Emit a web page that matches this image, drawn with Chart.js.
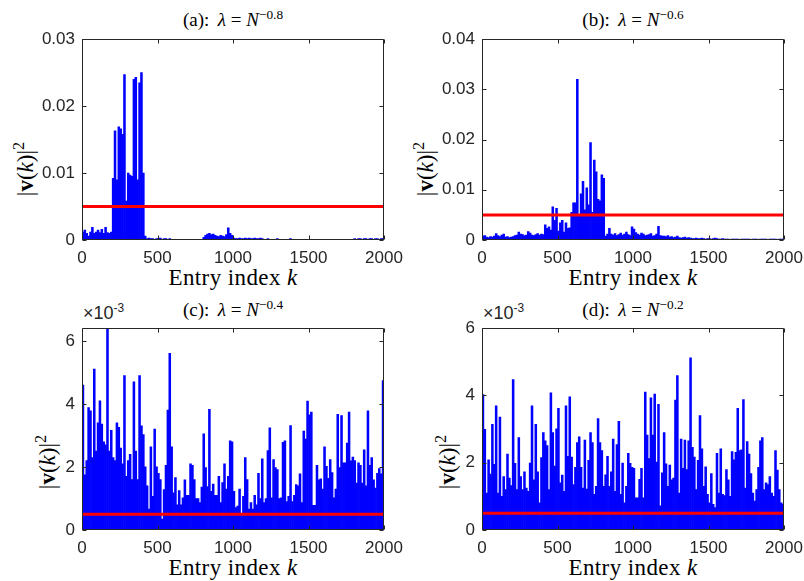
<!DOCTYPE html>
<html>
<head>
<meta charset="utf-8">
<script src="https://cdn.jsdelivr.net/npm/chart.js@4.4.0/dist/chart.umd.min.js"></script>
<style>
  body { margin: 0; width: 804px; height: 581px; overflow: hidden; position: relative; background: #fff; }
  .panel { position: absolute; }
  .txt { position: absolute; white-space: nowrap; font-family: "Liberation Serif", "Times New Roman", serif; color: #000; line-height: 1; }
  .title { font-size: 19px; transform: translate(-50%, -50%); }
  .xlab { font-size: 23px; transform: translate(-50%, -50%); letter-spacing: 0.4px; }
  .ylab { font-size: 23px; transform: translate(-50%, -50%) rotate(-90deg); }
  .expo { font-family: "Liberation Sans", Arial, sans-serif; font-size: 18px; color: #262626; }
  sup { font-size: 70%; vertical-align: 0.5em; line-height: 0; }
  .expo sup { font-size: 12px; vertical-align: 7px; }
</style>
</head>
<body>

<div class="txt title" style="left:233px;top:19px">(a):&thinsp; <i>λ</i> = <i>N</i><sup>−0.8</sup></div>
<div class="txt title" style="left:633px;top:19px">(b):&thinsp; <i>λ</i> = <i>N</i><sup>−0.6</sup></div>
<div class="txt title" style="left:233px;top:309px">(c):&thinsp; <i>λ</i> = <i>N</i><sup>−0.4</sup></div>
<div class="txt title" style="left:633px;top:309px">(d):&thinsp; <i>λ</i> = <i>N</i><sup>−0.2</sup></div>

<div class="txt xlab" style="left:233px;top:277px">Entry index <i>k</i></div>
<div class="txt xlab" style="left:633px;top:277px">Entry index <i>k</i></div>
<div class="txt xlab" style="left:233px;top:567px">Entry index <i>k</i></div>
<div class="txt xlab" style="left:633px;top:567px">Entry index <i>k</i></div>

<div class="txt ylab" style="left:25px;top:169px">|<b>v</b>(<i>k</i>)|<sup>2</sup></div>
<div class="txt ylab" style="left:425px;top:169px">|<b>v</b>(<i>k</i>)|<sup>2</sup></div>
<div class="txt ylab" style="left:47px;top:462px">|<b>v</b>(<i>k</i>)|<sup>2</sup></div>
<div class="txt ylab" style="left:447px;top:462px">|<b>v</b>(<i>k</i>)|<sup>2</sup></div>

<div class="txt expo" style="left:83px;top:304px">×10<sup>-3</sup></div>
<div class="txt expo" style="left:483px;top:304px">×10<sup>-3</sup></div>

<script>
// 每個子圖的數值 (單位 1e-4)，每格 12.5 個 entry
const N_ENTRIES = 2000;
const VALUE_UNIT = 1e-4;

const aValues = [
  12, 15, 10, 6, 12, 19, 10, 12, 15, 11, 16, 10, 19, 11, 10, 12,
  92, 163, 90, 169, 166, 158, 247, 58, 100, 97, 95, 240, 243, 90, 235, 250, 100, 6,
  2, 3, 2, 2, 1, 2, 2, 3, 1, 2, 2, 1, 2, 1,
  1, 1, 1, 1, 1, 1, 1, 1, 1, 1, 1, 1, 1, 1, 1, 1,
  4, 7, 9, 10, 8, 9, 7, 6, 5, 7, 6, 5, 8, 18, 10, 7,
  3, 2, 2, 3, 2, 2, 3, 2, 3, 2, 2, 3, 2, 2, 3, 2,
  1, 1, 2, 1, 1, 1, 1, 2, 1, 1, 1, 1, 1, 1, 2, 1,
  1, 1, 1, 1, 1, 1, 1, 1, 1, 1, 1, 1, 1, 1, 1, 1,
  1, 1, 1, 1, 1, 1, 1, 1, 1, 1, 1, 1, 1, 1, 1, 1,
  2, 1, 2, 2, 1, 2, 2, 1, 2, 2, 1, 2, 2, 1, 2, 2
];

const bValues = [
  8, 9, 6, 5, 7, 6, 8, 13, 9, 7, 10, 12, 6, 7, 5, 6,
  7, 9, 10, 16, 12, 11, 9, 10, 17, 14, 10, 9, 11, 13, 10, 12,
  11, 30, 23, 26, 20, 66, 39, 63, 18, 34, 39, 16, 34, 23, 24, 55,
  74, 74, 320, 50, 92, 117, 60, 104, 70, 194, 55, 159, 136, 81, 78, 130,
  123, 8, 12, 23,
  12, 10, 13, 9, 11, 14, 10, 12, 16, 11, 9, 26,
  22, 15, 12, 10, 14, 12, 9, 10, 11, 13, 8, 9, 12, 27, 9, 8,
  8, 7, 9, 6, 7, 5, 6, 8, 5, 4, 5, 6, 4, 5, 4, 3,
  3, 4, 3, 3, 4, 3, 2, 3, 3, 2, 3, 4, 3, 2, 2, 3,
  2, 2, 2, 1, 2, 2, 2, 2, 1, 2, 2, 2, 2, 2, 1, 2,
  2, 2, 1, 2, 2, 2, 2, 1, 2, 2, 2, 2, 1, 2, 2, 2
];

const cValues = [
  46, 17.5, 22, 38.8, 37.8, 23, 51, 25, 34, 41,
  33.6, 28, 27, 64, 25, 31.6, 23, 22, 34, 32.6,
  26, 21, 49, 17, 22, 24, 16, 47, 25, 16,
  49, 33, 30.3, 20, 14, 6.6, 26.4, 10.7, 32, 20,
  18, 16, 3.5, 12.8, 20.5, 38, 56, 26.4, 11.8, 16.6,
  8, 12.5, 8, 10.2, 15.9, 11, 11, 21, 20.5, 16,
  10, 10, 8.7, 13.6, 30.5, 19.8, 13.8, 38.3, 12.3, 14.6,
  11, 11, 17, 8.7, 15, 21, 13, 17, 28.3, 28,
  12.3, 7.1, 7.6, 13, 5, 10.7, 23, 16, 6.6, 8.7,
  6.6, 11, 8, 18, 10, 22.6, 8.7, 10, 25.2, 32.4,
  10.2, 22.3, 19.8, 19.2, 10, 10.2, 27.8, 28.3, 9, 10.7,
  33.1, 9, 11, 14.4, 14, 17.8, 8.7, 31.4, 28.8, 40.9,
  36.5, 37.4, 7.8, 7.8, 20.5, 15.9, 16.2, 13, 26.4, 20.2,
  16.4, 22.3, 18.2, 10.2, 13, 36.7, 19.8, 36.3, 21.3, 21.3,
  27.6, 37.4, 21.9, 23.1, 22, 14.9, 21.3, 20.5, 14.9, 25.4,
  14, 37.8, 20.5, 23, 15.9, 13.3, 18, 19.5, 17.8, 47.4
];

const dValues = [
  40.3, 29.9, 11, 20.9, 16.6, 31.4, 19.5, 36.9, 11, 33.6,
  10, 15.9, 12, 22.6, 15.4, 13.2, 44.7, 19.8, 12, 27.5,
  15.9, 12, 17.3, 12.5, 11.5, 19.9, 36.9, 14.9, 31.4, 17.3,
  8.1, 21.5, 29, 26.5, 25.1, 12, 40.8, 29, 19, 30.1,
  36.2, 14, 16.3, 11.5, 36.9, 21.9, 39.6, 21.7, 13.5, 18.6,
  26, 27.7, 18.6, 12.5, 26.7, 12.2, 20.7, 29, 26, 10.6,
  13, 33.1, 26, 23.6, 13, 16.4, 21.9, 13, 17.3, 27,
  11.5, 25.4, 32.3, 10.6, 19.9, 8.1, 13, 22.8, 19.8, 18.6,
  18.3, 9.6, 9.6, 15.1, 18.3, 9.6, 41, 28.2, 21.2, 39.3,
  28.2, 40.4, 20.2, 37.4, 7.2, 17, 29, 19.7, 13, 19.3,
  14.9, 15.4, 38.6, 45.9, 11, 27, 18.3, 26.7, 18, 26.5,
  51.2, 24.6, 21.7, 12, 20.7, 34, 24.1, 13, 18.8, 10.6,
  8.1, 16.8, 7.6, 6.7, 22.8, 11, 24.1, 10.6, 10.2, 18,
  14.9, 10, 23.3, 20.9, 23.1, 36.2, 23.6, 23.8, 38.8, 12.5,
  26.3, 22.6, 16.8, 11, 8.6, 12, 18.6, 26.5, 27.5, 12,
  14, 13.5, 15.9, 11, 10, 23.6, 17.8, 12, 8.1, 7.6
];

// 紅色門檻線
const redLevels = [0.005, 0.005, 0.0005, 0.0005];

// 刻度
const xTicks = [0, 500, 1000, 1500, 2000];
const yTicksA = [0, 0.01, 0.02, 0.03];
const yLabelsA = ['0', '0.01', '0.02', '0.03'];
const yTicksB = [0, 0.01, 0.02, 0.03, 0.04];
const yLabelsB = ['0', '0.01', '0.02', '0.03', '0.04'];
const yTicksC = [0, 0.002, 0.004, 0.006];
const yLabelsC = ['0', '2', '4', '6'];
const yTicksD = [0, 0.002, 0.004, 0.006];
const yLabelsD = ['0', '2', '4', '6'];

const panels = [
  { values: aValues, red: redLevels[0], yMax: 0.03, yTicks: yTicksA, yLabels: yLabelsA, left: 82, top: 34, bottom: 240 },
  { values: bValues, red: redLevels[1], yMax: 0.04, yTicks: yTicksB, yLabels: yLabelsB, left: 482, top: 34, bottom: 240 },
  { values: cValues, red: redLevels[2], yMax: 0.0064, yTicks: yTicksC, yLabels: yLabelsC, left: 82, top: 323, bottom: 530 },
  { values: dValues, red: redLevels[3], yMax: 0.006, yTicks: yTicksD, yLabels: yLabelsD, left: 482, top: 323, bottom: 530 }
];

const PLOT_W = 302;
const PAD_L = 60, PAD_T = 12, PAD_R = 30, PAD_B = 30;
const AXIS_COLOR = '#262626';
const tickFont = { family: '"Liberation Sans", Arial, sans-serif', size: 17 };

// MATLAB 風格的外框與內向刻度
const boxPlugin = {
  id: 'matlabBox',
  afterDatasetsDraw(chart) {
    const { ctx, chartArea: a, scales: { x, y } } = chart;
    const L = Math.round(a.left) + 0.5, R = Math.round(a.right) - 0.5;
    const T = Math.round(a.top) + 0.5, B = Math.round(a.bottom) - 0.5;
    const len = 4;
    ctx.save();
    ctx.strokeStyle = AXIS_COLOR;
    ctx.lineWidth = 1;
    ctx.beginPath();
    ctx.rect(L, T, R - L, B - T);
    x.ticks.forEach(t => {
      const px = Math.round(x.getPixelForValue(t.value)) + 0.5;
      ctx.moveTo(px, B); ctx.lineTo(px, B - len);
      ctx.moveTo(px, T); ctx.lineTo(px, T + len);
    });
    y.ticks.forEach(t => {
      const py = Math.round(y.getPixelForValue(t.value)) + 0.5;
      ctx.moveTo(L, py); ctx.lineTo(L + len, py);
      ctx.moveTo(R, py); ctx.lineTo(R - len, py);
    });
    ctx.stroke();
    ctx.restore();
  }
};

function createPanel(p) {
  const w = PAD_L + PLOT_W + PAD_R;
  const h = PAD_T + (p.bottom - p.top) + PAD_B;
  const div = document.createElement('div');
  div.className = 'panel';
  div.style.left = (p.left - PAD_L) + 'px';
  div.style.top = (p.top - PAD_T) + 'px';
  div.style.width = w + 'px';
  div.style.height = h + 'px';
  const canvas = document.createElement('canvas');
  canvas.width = w;
  canvas.height = h;
  div.appendChild(canvas);
  document.body.appendChild(div);

  const binWidth = N_ENTRIES / p.values.length;
  const barData = p.values.map((v, i) => ({ x: (i + 0.5) * binWidth, y: v * VALUE_UNIT }));

  return new Chart(canvas.getContext('2d'), {
    type: 'bar',
    data: {
      datasets: [
        {
          type: 'line',
          data: [{ x: 0, y: p.red }, { x: N_ENTRIES, y: p.red }],
          borderColor: '#ff0000',
          borderWidth: 3,
          pointRadius: 0,
          order: 0
        },
        {
          type: 'bar',
          data: barData,
          backgroundColor: '#0000ff',
          borderWidth: 0,
          barPercentage: 1,
          categoryPercentage: 1,
          order: 1
        }
      ]
    },
    options: {
      responsive: false,
      animation: false,
      events: [],
      layout: { padding: { left: 0, top: PAD_T, right: PAD_R, bottom: 0 } },
      plugins: { legend: { display: false }, tooltip: { enabled: false } },
      scales: {
        x: {
          type: 'linear',
          min: 0,
          max: N_ENTRIES,
          offset: false,
          grid: { display: false, drawTicks: false },
          border: { display: false },
          afterBuildTicks: s => { s.ticks = xTicks.map(v => ({ value: v })); },
          afterFit: s => { s.height = PAD_B; },
          ticks: {
            font: tickFont,
            color: AXIS_COLOR,
            padding: 8,
            maxRotation: 0,
            autoSkip: false,
            callback: v => String(v)
          }
        },
        y: {
          type: 'linear',
          min: 0,
          max: p.yMax,
          grid: { display: false, drawTicks: false },
          border: { display: false },
          afterBuildTicks: s => { s.ticks = p.yTicks.map(v => ({ value: v })); },
          afterFit: s => { s.width = PAD_L; },
          ticks: {
            font: tickFont,
            color: AXIS_COLOR,
            padding: 7,
            autoSkip: false,
            callback: (v, i) => p.yLabels[i]
          }
        }
      }
    },
    plugins: [boxPlugin]
  });
}

panels.forEach(createPanel);
</script>
</body>
</html>
